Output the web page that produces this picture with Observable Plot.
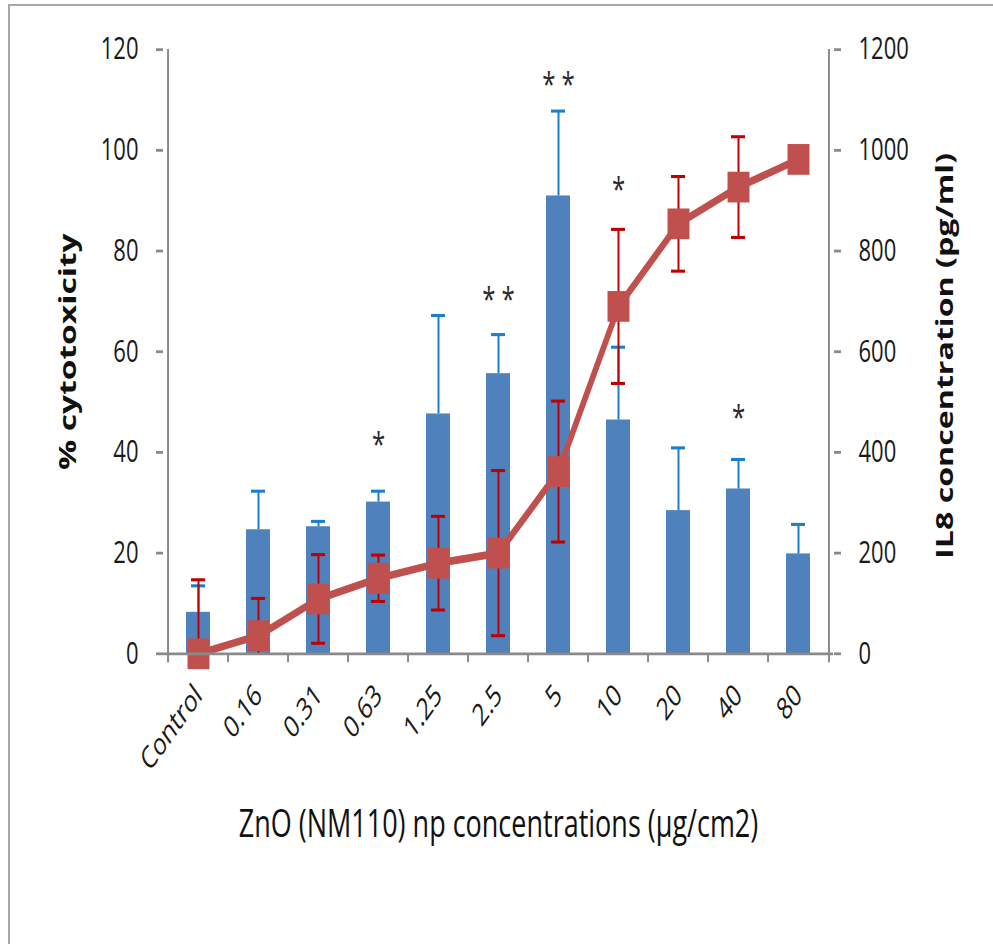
<!DOCTYPE html>
<html>
<head>
<meta charset="utf-8">
<script src="https://cdn.jsdelivr.net/npm/d3@7"></script>
<script src="https://cdn.jsdelivr.net/npm/@observablehq/plot@0.6"></script>
<style>
  html, body { margin: 0; padding: 0; background: #fff; width: 993px; height: 944px; overflow: hidden; }
  #frame { position: absolute; left: 8px; top: 4px; width: 1100px; height: 1100px;
           border-top: 2px solid #a8a8a8; border-left: 2px solid #a8a8a8; }
  #chart { position: absolute; left: 0; top: 0; }
  #chart svg { transform-origin: 0 0; }
</style>
</head>
<body>
<div id="frame"></div>
<div id="chart"></div>
<script>
// ZnO (NM110) exposure: IL8 release (bars, pg/ml) and % cytotoxicity (line)
const concentrations = ["Control", "0.16", "0.31", "0.63", "1.25", "2.5", "5", "10", "20", "40", "80"];
const il8Mean = [82, 246, 252, 301, 476, 556, 909, 464, 284, 327, 198];
const il8Err  = [53, 77, 11, 22, 196, 78, 169, 145, 125, 59, 59];
const cytoMean = [0, 3.6, 10.9, 15, 18, 20, 36.2, 69, 85.4, 92.7, 98.2];
const cytoErr  = [14.7, 7.4, 8.8, 4.6, 9.3, 16.4, 14, 15.3, 9.4, 10, 0];

// significance marks
const sigConcentrations = ["0.63", "2.5", "5", "10", "40"];
const sigText = ["*", "* *", "* *", "*", "*"];
const sigAt = [41.5, 70.2, 112.9, 92, 46.7];

const cytoTicks = [0, 20, 40, 60, 80, 100, 120];
const il8PerPercent = 10; // 120 % on the left axis corresponds to 1200 pg/ml on the right

const rows = concentrations.map((c, i) => ({
  c, il8: il8Mean[i] / il8PerPercent, il8e: il8Err[i] / il8PerPercent,
  cyto: cytoMean[i], cytoe: cytoErr[i]
}));
const sig = sigConcentrations.map((c, i) => ({c, text: sigText[i], y: sigAt[i]}));

// layout (drawn at a squat size and stretched vertically)
const W = 993, H = 675, stretch = 944 / H;
const mL = 163, mR = 160, mT = 35, mB = 208;
const bw = (W - mL - mR) / concentrations.length;
const pxPerUnit = (H - mT - mB) / 120;
const tickLen = 6.5 / pxPerUnit;

const axisGray = "#8a8a8a";
const blue = "#4F81BD", blueErr = "#1a7fd0", red = "#C0504D", redErr = "#C00000";
const font = "Open Sans, Noto Sans, sans-serif";

const withErr = rows.filter(d => d.cytoe > 0);

const plot = Plot.plot({
  width: W, height: H,
  marginLeft: mL, marginRight: mR, marginTop: mT, marginBottom: mB,
  style: {fontFamily: font, fontSize: "22px", color: "#1a1a1a", background: "transparent"},
  x: {domain: concentrations, padding: 0, axis: null},
  y: {domain: [0, 120], axis: null},
  marks: [
    // IL8 bars and their upper error bars
    Plot.barY(rows, {x: "c", y: "il8", fill: blue, insetLeft: 18, insetRight: 18}),
    Plot.ruleX(rows, {x: "c", y1: "il8", y2: d => d.il8 + d.il8e, stroke: blueErr, strokeWidth: 2}),
    Plot.tickY(rows, {x: "c", y: d => d.il8 + d.il8e, stroke: blueErr, strokeWidth: 2.2, insetLeft: 23, insetRight: 23}),

    // cytotoxicity error bars (clipped at zero)
    Plot.ruleX(withErr, {x: "c", y1: d => Math.max(0, d.cyto - d.cytoe), y2: d => d.cyto + d.cytoe, stroke: redErr, strokeWidth: 2}),
    Plot.tickY(withErr, {x: "c", y: d => d.cyto + d.cytoe, stroke: redErr, strokeWidth: 2.2, insetLeft: 23, insetRight: 23}),
    Plot.tickY(withErr.filter(d => d.cyto - d.cytoe > 0), {x: "c", y: d => d.cyto - d.cytoe, stroke: redErr, strokeWidth: 2.2, insetLeft: 23, insetRight: 23}),

    // cytotoxicity line with square markers
    Plot.line(rows, {x: "c", y: "cyto", stroke: red, strokeWidth: 5.5}),
    Plot.dot(rows, {x: "c", y: "cyto", symbol: "square", r: 12.4, fill: red, stroke: "none"}),

    // significance asterisks
    Plot.text(sig, {x: "c", y: "y", text: "text", fontSize: 24, fill: "#2a2a2a"}),

    // axis lines
    Plot.ruleY([0], {stroke: axisGray, strokeWidth: 2}),
    Plot.ruleX([concentrations[0]], {x: d => d, dx: -bw / 2, y1: -tickLen, y2: 120, stroke: axisGray, strokeWidth: 2}),
    Plot.ruleX([concentrations[concentrations.length - 1]], {x: d => d, dx: bw / 2, y1: -tickLen, y2: 120, stroke: axisGray, strokeWidth: 2}),
    // category boundary ticks
    Plot.ruleX(concentrations, {x: d => d, dx: -bw / 2, y1: 0, y2: -tickLen, stroke: axisGray, strokeWidth: 2}),

    // left axis: % cytotoxicity
    Plot.axisY({anchor: "left", ticks: cytoTicks, tickSize: 7, tickPadding: 18, stroke: axisGray, strokeWidth: 2, label: null, fontSize: 22}),
    // right axis: IL8 concentration
    Plot.axisY({anchor: "right", ticks: cytoTicks, tickFormat: d => String(d * il8PerPercent), tickSize: 7, tickPadding: 18, stroke: axisGray, strokeWidth: 2, label: null, fontSize: 22}),
    // concentration labels
    Plot.axisX({anchor: "bottom", tickSize: 0, tickPadding: 26, tickRotate: -45, label: null, fontSize: 22}),

    // axis titles
    Plot.text(["% cytotoxicity"], {text: d => d, frameAnchor: "left", textAnchor: "middle", dx: -95, dy: 0, rotate: -90, fontWeight: "bold", fontSize: 24, fill: "#111"}),
    Plot.text(["IL8 concentration (pg/ml)"], {text: d => d, frameAnchor: "right", textAnchor: "middle", dx: 112, dy: 3, rotate: -90, fontWeight: "bold", fontSize: 23, fill: "#111"}),
    Plot.text(["ZnO (NM110) np concentrations (µg/cm2)"], {text: d => d, frameAnchor: "bottom", dy: 131, fontSize: 27, fill: "#111"})
  ]
});

plot.style.transform = `scale(1, ${stretch})`;
document.getElementById("chart").appendChild(plot);
</script>
</body>
</html>
